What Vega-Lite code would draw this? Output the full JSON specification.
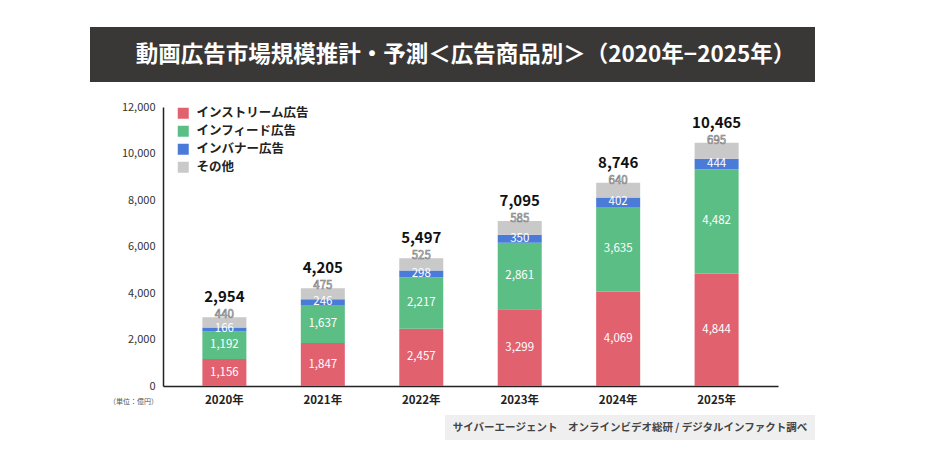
{
  "$schema": "https://vega.github.io/schema/vega-lite/v6.json",
  "padding": {"left": 90, "top": 27, "right": 5, "bottom": 5},
  "background": "white",
  "config": {
    "font": "Noto Sans CJK JP",
    "view": {"stroke": null}
  },
  "resolve": {"scale": {"color": "independent"}, "legend": {"color": "independent"}},
  "spacing": 19,
  "vconcat": [
    {
      "width": 725,
      "height": 55,
      "view": {"fill": "#3a3836", "stroke": null},
      "data": {"values": [{"label": "動画広告市場規模推計・予測＜広告商品別＞（2020年−2025年）"}]},
      "mark": {"type": "text", "color": "white", "fontSize": 22.5, "fontWeight": "bold", "dx": 13},
      "encoding": {"text": {"field": "label", "type": "nominal"}}
    },
    {
      "spacing": 9,
      "resolve": {"scale": {"color": "independent"}, "legend": {"color": "independent"}},
      "vconcat": [
        {
          "width": 688,
          "height": 279,
          "data": {
            "values": [
              {"year": "2020年", "type": "インストリーム広告", "order": 1, "value": 1156},
              {"year": "2020年", "type": "インフィード広告", "order": 2, "value": 1192},
              {"year": "2020年", "type": "インバナー広告", "order": 3, "value": 166},
              {"year": "2020年", "type": "その他", "order": 4, "value": 440},
              {"year": "2021年", "type": "インストリーム広告", "order": 1, "value": 1847},
              {"year": "2021年", "type": "インフィード広告", "order": 2, "value": 1637},
              {"year": "2021年", "type": "インバナー広告", "order": 3, "value": 246},
              {"year": "2021年", "type": "その他", "order": 4, "value": 475},
              {"year": "2022年", "type": "インストリーム広告", "order": 1, "value": 2457},
              {"year": "2022年", "type": "インフィード広告", "order": 2, "value": 2217},
              {"year": "2022年", "type": "インバナー広告", "order": 3, "value": 298},
              {"year": "2022年", "type": "その他", "order": 4, "value": 525},
              {"year": "2023年", "type": "インストリーム広告", "order": 1, "value": 3299},
              {"year": "2023年", "type": "インフィード広告", "order": 2, "value": 2861},
              {"year": "2023年", "type": "インバナー広告", "order": 3, "value": 350},
              {"year": "2023年", "type": "その他", "order": 4, "value": 585},
              {"year": "2024年", "type": "インストリーム広告", "order": 1, "value": 4069},
              {"year": "2024年", "type": "インフィード広告", "order": 2, "value": 3635},
              {"year": "2024年", "type": "インバナー広告", "order": 3, "value": 402},
              {"year": "2024年", "type": "その他", "order": 4, "value": 640},
              {"year": "2025年", "type": "インストリーム広告", "order": 1, "value": 4844},
              {"year": "2025年", "type": "インフィード広告", "order": 2, "value": 4482},
              {"year": "2025年", "type": "インバナー広告", "order": 3, "value": 444},
              {"year": "2025年", "type": "その他", "order": 4, "value": 695}
            ]
          },
          "encoding": {
            "x": {
              "field": "year",
              "type": "nominal",
              "scale": {"range": [73, 688], "paddingInner": 0.553, "paddingOuter": 0.4},
              "axis": {
                "title": null,
                "labelAngle": 0,
                "ticks": false,
                "domainColor": "#222222",
                "domainWidth": 1.5,
                "labelFontSize": 11.5,
                "labelFontWeight": "bold",
                "labelColor": "#222222",
                "labelPadding": 8
              }
            }
          },
          "layer": [
            {
              "mark": {"type": "bar"},
              "encoding": {
                "y": {
                  "field": "value",
                  "type": "quantitative",
                  "stack": "zero",
                  "scale": {"domain": [0, 12000]},
                  "axis": {
                    "offset": -73,
                    "title": "（単位：億円）",
                    "titleAngle": 0,
                    "titleX": -30,
                    "titleY": 294,
                    "titleFontSize": 7,
                    "titleFontWeight": "normal",
                    "titleColor": "#555555",
                    "titleAlign": "center",
                    "titleBaseline": "middle",
                    "values": [0, 2000, 4000, 6000, 8000, 10000, 12000],
                    "labelExpr": "format(datum.value, ',')",
                    "ticks": false,
                    "grid": false,
                    "domainColor": "#222222",
                    "domainWidth": 1.5,
                    "labelFontSize": 11,
                    "labelColor": "#333333",
                    "labelPadding": 8
                  }
                },
                "color": {
                  "field": "type",
                  "type": "nominal",
                  "scale": {
                    "domain": ["インストリーム広告", "インフィード広告", "インバナー広告", "その他"],
                    "range": ["#e2616f", "#5bbe85", "#4a7bd8", "#c9c9c9"]
                  },
                  "legend": {
                    "orient": "none",
                    "legendX": 87,
                    "legendY": 0,
                    "title": null,
                    "symbolType": "square",
                    "symbolSize": 121,
                    "symbolStrokeWidth": 0,
                    "labelFontSize": 12.5,
                    "labelFontWeight": "bold",
                    "labelColor": "#222222",
                    "rowPadding": 5,
                    "labelOffset": 7,
                    "padding": 0
                  }
                },
                "order": {"field": "order", "type": "quantitative"}
              }
            },
            {
              "mark": {"type": "text", "color": "white", "fontSize": 11.5},
              "encoding": {
                "y": {"field": "value", "type": "quantitative", "stack": "zero", "bandPosition": 0.5, "scale": {"domain": [0, 12000]}},
                "detail": {"field": "type", "type": "nominal"},
                "order": {"field": "order", "type": "quantitative"},
                "text": {
                  "condition": {"test": "datum.type === 'その他'", "value": ""},
                  "field": "value",
                  "type": "quantitative",
                  "format": ","
                }
              }
            },
            {
              "mark": {"type": "text", "fill": "#ffffff", "stroke": "#7f7f7f", "strokeWidth": 0.7, "fontSize": 11.5, "dy": -2},
              "encoding": {
                "y": {"field": "value", "type": "quantitative", "stack": "zero", "scale": {"domain": [0, 12000]}},
                "detail": {"field": "type", "type": "nominal"},
                "order": {"field": "order", "type": "quantitative"},
                "text": {
                  "condition": {"test": "datum.type !== 'その他'", "value": ""},
                  "field": "value",
                  "type": "quantitative",
                  "format": ","
                }
              }
            },
            {
              "mark": {"type": "text", "color": "#111111", "fontSize": 15, "fontWeight": "bold", "dy": -20},
              "encoding": {
                "y": {"aggregate": "sum", "field": "value", "type": "quantitative", "scale": {"domain": [0, 12000]}},
                "text": {"aggregate": "sum", "field": "value", "type": "quantitative", "format": ","}
              }
            }
          ]
        },
        {
          "spacing": 0,
          "hconcat": [
            {
              "width": 355,
              "height": 25,
              "view": {"stroke": null},
              "data": {"values": [{"label": ""}]},
              "mark": {"type": "text"},
              "encoding": {"text": {"field": "label", "type": "nominal"}}
            },
            {
              "width": 370,
              "height": 25,
              "view": {"fill": "#efefef", "stroke": null},
              "data": {"values": [{"label": "サイバーエージェント　オンラインビデオ総研 / デジタルインファクト調べ"}]},
              "mark": {"type": "text", "fontSize": 10.5, "fontWeight": "bold", "color": "#444444"},
              "encoding": {"text": {"field": "label", "type": "nominal"}}
            }
          ]
        }
      ]
    }
  ]
}
